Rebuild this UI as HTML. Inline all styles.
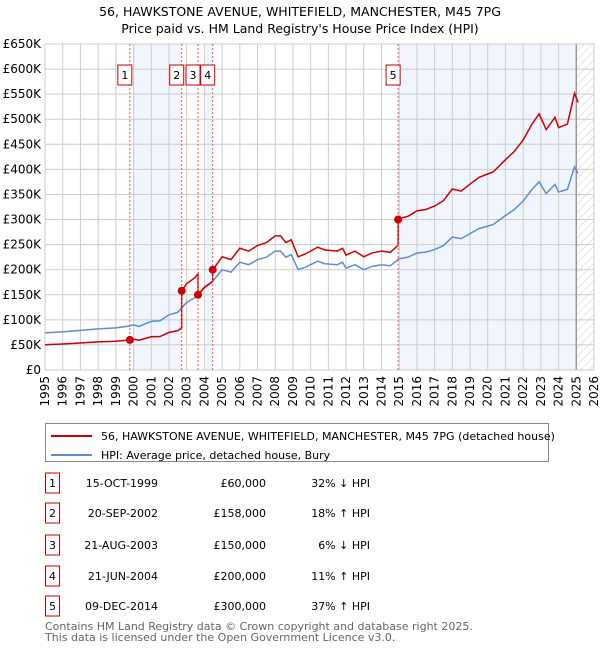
<!DOCTYPE html>
<html><head><meta charset="utf-8">
<style>
body{margin:0;background:#fff;font-family:"Liberation Sans","DejaVu Sans",sans-serif;}
svg text{font-family:"DejaVu Sans","Liberation Sans",sans-serif;}
</style></head>
<body>
<svg id="chart" width="600" height="650" xmlns="http://www.w3.org/2000/svg">
<defs>
<pattern id="hatch" patternUnits="userSpaceOnUse" width="6" height="6" patternTransform="rotate(45)">
<line x1="0" y1="0" x2="0" y2="6" stroke="#ccc" stroke-width="1"/>
</pattern>
</defs>
<text x="300" y="16" text-anchor="middle" font-size="12.5">56, HAWKSTONE AVENUE, WHITEFIELD, MANCHESTER, M45 7PG</text>
<text x="300" y="33" text-anchor="middle" font-size="12.5">Price paid vs. HM Land Registry's House Price Index (HPI)</text>
<g id="bands"></g>
<g id="grid"></g>
<g id="series"></g>
<g id="markers"></g>
<g id="xlabels"></g>
<g id="ylabels"></g>

<g>
<rect x="45.5" y="423.5" width="503" height="38" fill="#fff" stroke="#888"/>
<line x1="51" y1="436" x2="92" y2="436" stroke="#cc0000" stroke-width="2"/>
<text x="101" y="440" font-size="11">56, HAWKSTONE AVENUE, WHITEFIELD, MANCHESTER, M45 7PG (detached house)</text>
<line x1="51" y1="455" x2="92" y2="455" stroke="#5b8fd0" stroke-width="2"/>
<text x="101" y="459" font-size="11">HPI: Average price, detached house, Bury</text>
</g>
<g id="table"></g>
<text x="45" y="630" font-size="11" fill="#666">Contains HM Land Registry data © Crown copyright and database right 2025.</text>
<text x="45" y="641" font-size="11" fill="#666">This data is licensed under the Open Government Licence v3.0.</text>
</svg>
<script>
const hpiYears=[1995,1996,1997,1998,1999,1999.8,2000,2000.3,2001,2001.5,2002,2002.5,2003,2003.5,2004,2004.5,2005,2005.5,2006,2006.5,2007,2007.5,2008,2008.3,2008.6,2008.9,2009.3,2009.7,2010,2010.4,2010.8,2011.5,2011.8,2012,2012.5,2013,2013.5,2014,2014.5,2015,2015.5,2016,2016.5,2017,2017.5,2018,2018.5,2019,2019.5,2020,2020.3,2021,2021.5,2022,2022.5,2022.9,2023.3,2023.8,2024,2024.5,2024.9,2025.1];
const hpiValues=[74,76,79,82,84,88,90,87,97,98,110,115,135,145,165,178,200,195,215,210,220,225,237,237,225,230,200,205,210,217,212,210,215,203,210,200,207,210,208,222,225,233,235,240,248,265,262,272,282,287,290,308,320,337,360,375,352,370,355,360,405,392];
const saleDates=[1999.79,2002.72,2003.64,2004.47,2014.94];
const salePrices=[60,158,150,200,300];
const saleLabels=["15-OCT-1999","20-SEP-2002","21-AUG-2003","21-JUN-2004","09-DEC-2014"];
const salePriceText=["£60,000","£158,000","£150,000","£200,000","£300,000"];
const saleHpiText=["32% ↓ HPI","18% ↑ HPI","6% ↓ HPI","11% ↑ HPI","37% ↑ HPI"];
const yTicks=[0,50,100,150,200,250,300,350,400,450,500,550,600,650];
const yTickLabels=["£0","£50K","£100K","£150K","£200K","£250K","£300K","£350K","£400K","£450K","£500K","£550K","£600K","£650K"];
const xTicks=[1995,1996,1997,1998,1999,2000,2001,2002,2003,2004,2005,2006,2007,2008,2009,2010,2011,2012,2013,2014,2015,2016,2017,2018,2019,2020,2021,2022,2023,2024,2025,2026];
const bandRanges=[[2000,2002.72],[2004,2004.47],[2015,2025.0]];
const dataEnd=2025.0;

const X0=45,X1=594,Y0=370,Y1=44;
const xs=y=>X0+(y-1995)/(2026-1995)*(X1-X0);
const ys=v=>Y0-v/650*(Y0-Y1);
const NS="http://www.w3.org/2000/svg";
function mk(tag,attrs,parent){const e=document.createElementNS(NS,tag);for(const k in attrs)e.setAttribute(k,attrs[k]);document.getElementById(parent).appendChild(e);return e;}
function hpiAt(t){for(let i=0;i<hpiYears.length-1;i++){if(t<=hpiYears[i+1]){const f=(t-hpiYears[i])/(hpiYears[i+1]-hpiYears[i]);return hpiValues[i]+f*(hpiValues[i+1]-hpiValues[i]);}}return hpiValues[hpiValues.length-1];}

// bands
bandRanges.forEach(r=>{
 const b=mk('rect',{x:xs(r[0]),y:Y1,width:xs(r[1])-xs(r[0]),height:Y0-Y1,fill:'#eef3fc',opacity:0.8},'bands');
 
 
});
const h=mk('rect',{x:xs(dataEnd),y:Y1,width:X1-xs(dataEnd),height:Y0-Y1,fill:'url(#hatch)'},'bands');


// grid
yTicks.forEach((v,i)=>{
 mk('line',{x1:X0,x2:X1,y1:ys(v),y2:ys(v),stroke:'#ccc','stroke-width':1},'grid');
 const t=mk('text',{x:X0-4,y:ys(v)+4,'text-anchor':'end','font-size':12},'ylabels');
 t.textContent=yTickLabels[i];
 
 
});
xTicks.forEach(y=>{
 mk('line',{x1:xs(y),x2:xs(y),y1:Y1,y2:Y0,stroke:'#ccc','stroke-width':1},'grid');
 const t=mk('text',{x:0,y:0,'text-anchor':'end','font-size':12,transform:`translate(${xs(y)+4},${Y0+6}) rotate(-90)`},'xlabels');
 t.textContent=y;
 
 
});
mk('line',{x1:xs(dataEnd),x2:xs(dataEnd),y1:Y1,y2:Y0,stroke:'#999','stroke-width':1.5},'grid');
mk('rect',{x:X0,y:Y1,width:X1-X0,height:Y0-Y1,fill:'none',stroke:'#ccc'},'grid');

// HPI line
let dH='';
for(let i=0;i<hpiYears.length;i++){dH+=(i?'L':'M')+xs(hpiYears[i]).toFixed(1)+','+ys(hpiValues[i]).toFixed(1);}
const hp=mk('path',{d:dH,fill:'none',stroke:'#5b8fd0','stroke-width':1.5},'series');



// price line: HPI scaled by ratio at each sale
function ratioAt(t){let k=0;for(let i=0;i<saleDates.length;i++){if(t>=saleDates[i])k=i;}return salePrices[k]/hpiAt(saleDates[k]);}
let pts=[];
const ts=new Set(hpiYears.filter(y=>y<=2025.1));
saleDates.forEach(d=>{ts.add(d-0.001);ts.add(d);});
[...ts].sort((a,b)=>a-b).forEach(t=>pts.push([t,hpiAt(t)*ratioAt(t)]));
let dP=pts.map((p,i)=>(i?'L':'M')+xs(p[0]).toFixed(1)+','+ys(p[1]).toFixed(1)).join('');
const pp=mk('path',{d:dP,fill:'none',stroke:'#cc0000','stroke-width':1.5},'series');



// sale markers
saleDates.forEach((d,i)=>{
 const l=mk('line',{x1:xs(d),x2:xs(d),y1:Y1,y2:Y0,stroke:'#e55','stroke-width':1,'stroke-dasharray':'2,2'},'markers');
 
 
 const c=mk('circle',{cx:xs(d),cy:ys(salePrices[i]),r:4,fill:'#cc0000'},'markers');
 
 
 const bx=xs(d)-12,by=65;
 const r=mk('rect',{x:bx,y:by,width:14,height:20,fill:'#fff',stroke:'#cc0000'},'markers');
 
 
 const t=mk('text',{x:bx+7,y:by+14,'text-anchor':'middle','font-size':11},'markers');
 t.textContent=i+1;
 
 
});

// table
const rowY=[483,513,545,576,606];
saleDates.forEach((d,i)=>{
 const y=rowY[i];
 const r=mk('rect',{x:45.5,y:y-10,width:14,height:20,fill:'#fff',stroke:'#cc0000'},'table');
 
 
 const n=mk('text',{x:52.5,y:y+4,'text-anchor':'middle','font-size':11},'table');n.textContent=i+1;
 
 
 const a=mk('text',{x:158,y:y+4,'text-anchor':'end','font-size':11},'table');a.textContent=saleLabels[i];
 
 
 const b=mk('text',{x:266,y:y+4,'text-anchor':'end','font-size':11},'table');b.textContent=salePriceText[i];
 
 
 const c=mk('text',{x:370,y:y+4,'text-anchor':'end','font-size':11},'table');c.textContent=saleHpiText[i];
 
 
});
</script>
</body></html>
